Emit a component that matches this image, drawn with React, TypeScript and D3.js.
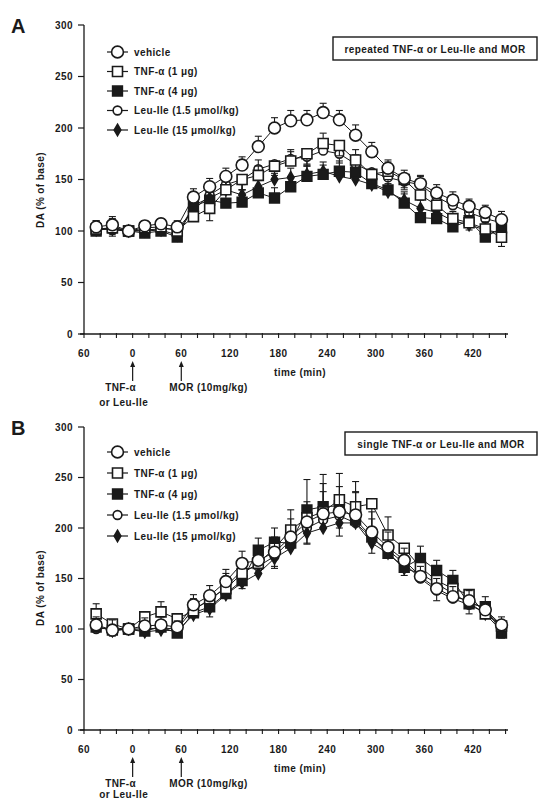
import React from 'react';
import * as d3 from 'd3';

// sampling times (min), one sample every 20 min
const times = [-45, -25, -5, 15, 35, 55, 75, 95, 115, 135, 155, 175, 195, 215, 235, 255, 275, 295, 315, 335, 355, 375, 395, 415, 435, 455];

const seriesNames = ['vehicle', 'TNF-α (1 μg)', 'TNF-α (4 μg)', 'Leu-Ile (1.5 μmol/kg)', 'Leu-Ile (15 μmol/kg)'];

// panel A: repeated pretreatment
const aVehicle = [104, 106, 100, 105, 107, 104, 133, 143, 153, 164, 182, 200, 207, 208, 215, 208, 193, 177, 161, 151, 146, 137, 130, 124, 118, 111];
const aTnf1 = [102, 103, 100, 103, 104, 100, 114, 122, 140, 150, 154, 163, 168, 175, 185, 183, 169, 155, 158, 150, 135, 125, 112, 108, 102, 94];
const aTnf4 = [100, 104, 100, 98, 100, 94, 124, 130, 127, 128, 137, 132, 143, 153, 155, 158, 157, 146, 140, 127, 113, 112, 104, 110, 94, 103];
const aLeu15 = [103, 101, 100, 101, 102, 102, 120, 135, 145, 150, 160, 165, 170, 172, 178, 175, 165, 157, 152, 148, 145, 133, 125, 118, 112, 108];
const aLeu150 = [101, 102, 100, 100, 101, 96, 125, 132, 140, 135, 143, 150, 152, 155, 158, 153, 150, 145, 138, 130, 122, 118, 110, 106, 101, 98];

const aVehicleErr = [6, 8, 0, 5, 5, 6, 8, 8, 8, 8, 10, 10, 10, 9, 9, 9, 10, 9, 8, 8, 8, 8, 8, 7, 7, 8];
const aTnf1Err = [8, 6, 0, 6, 6, 6, 10, 12, 10, 10, 9, 9, 9, 10, 10, 10, 10, 9, 9, 8, 8, 8, 7, 7, 7, 9];
const aTnf4Err = [8, 8, 0, 6, 8, 6, 9, 12, 14, 12, 12, 10, 10, 10, 9, 10, 10, 10, 10, 9, 8, 8, 8, 8, 8, 8];
const aLeu15Err = [6, 6, 0, 5, 6, 5, 8, 10, 10, 10, 9, 9, 9, 9, 9, 9, 9, 8, 8, 8, 8, 7, 7, 7, 6, 7];
const aLeu150Err = [6, 7, 0, 5, 6, 6, 9, 10, 10, 10, 10, 9, 9, 9, 9, 9, 9, 9, 8, 8, 8, 8, 7, 7, 7, 7];

// panel B: single pretreatment
const bVehicle = [104, 99, 100, 103, 104, 102, 124, 133, 147, 165, 168, 176, 191, 206, 214, 216, 213, 196, 181, 168, 152, 140, 132, 128, 119, 104];
const bTnf1 = [115, 105, 100, 112, 117, 110, 118, 130, 140, 155, 165, 180, 198, 210, 216, 228, 221, 224, 193, 180, 161, 148, 140, 134, 115, 103];
const bTnf4 = [102, 99, 100, 98, 102, 96, 116, 122, 135, 148, 178, 186, 185, 218, 221, 222, 208, 191, 175, 161, 170, 158, 148, 125, 122, 96];
const bLeu15 = [100, 101, 100, 100, 101, 100, 120, 128, 142, 158, 162, 172, 188, 200, 208, 212, 205, 190, 178, 165, 150, 138, 130, 124, 116, 104];
const bLeu150 = [103, 98, 100, 97, 99, 98, 114, 120, 134, 146, 155, 170, 180, 195, 200, 205, 205, 185, 175, 160, 155, 145, 135, 126, 115, 98];

const bVehicleErr = [8, 10, 0, 8, 8, 6, 10, 10, 12, 12, 12, 15, 18, 20, 22, 25, 22, 20, 15, 12, 10, 10, 10, 10, 8, 8];
const bTnf1Err = [10, 8, 0, 15, 10, 8, 12, 18, 15, 15, 15, 18, 20, 25, 28, 28, 25, 25, 18, 15, 12, 12, 10, 10, 10, 12];
const bTnf4Err = [6, 8, 0, 6, 6, 5, 10, 12, 10, 12, 12, 14, 15, 30, 32, 32, 28, 18, 14, 12, 12, 10, 10, 12, 10, 8];
const bLeu15Err = [6, 8, 0, 6, 6, 6, 8, 10, 10, 12, 10, 12, 14, 16, 18, 20, 18, 15, 14, 12, 10, 10, 10, 9, 8, 8];
const bLeu150Err = [6, 10, 0, 6, 6, 6, 8, 10, 10, 12, 12, 12, 14, 16, 18, 20, 18, 16, 14, 12, 12, 10, 10, 9, 8, 8];

const yTicks = [0, 50, 100, 150, 200, 250, 300];
const xLabels = [-60, 0, 60, 120, 180, 240, 300, 360, 420];
const xMinorTicks = d3.range(-60, 461, 20);

const FONT = '"Liberation Sans", Arial, sans-serif';
const INK = '#1a1a1a';
const FS = 10;
const LS = 0.4;

// marker style for each series: symbol type, size, filled
const markers = [
  { type: d3.symbolCircle, size: 110, fill: false },
  { type: d3.symbolSquare, size: 100, fill: false },
  { type: d3.symbolSquare, size: 95, fill: true },
  { type: d3.symbolCircle, size: 60, fill: false },
  { type: d3.symbolDiamond, size: 38, fill: true },
];

const Marker = ({ i, x, y }) => {
  const m = markers[i];
  const path = d3.symbol().type(m.type).size(m.size)();
  return (
    <path
      d={path}
      transform={`translate(${x},${y})`}
      fill={m.fill ? INK : '#fff'}
      stroke={INK}
      strokeWidth={1.6}
    />
  );
};

const Label = ({ children, ...rest }) => (
  <text fontFamily={FONT} fontSize={FS} fontWeight="bold" letterSpacing={LS} fill={INK} {...rest}>
    {children}
  </text>
);

const Panel = ({ letter, top, bottom, boxText, boxY, boxX, legendY, legendGap, series, errs, titleY, noteGap }) => {
  const x = d3.scaleLinear().domain([-60, 463]).range([84, 508]);
  const y = d3.scaleLinear().domain([0, 300]).range([bottom, top]);
  const line = d3.line().x((d) => x(d[0])).y((d) => y(d[1]));
  // draw in reverse so the vehicle stays on top
  const order = [3, 4, 2, 1, 0];

  return (
    <g>
      <text x={11} y={top + 8} fontFamily={FONT} fontSize={20} fontWeight="bold" fill={INK}>{letter}</text>

      {/* y axis */}
      <line x1={84} x2={84} y1={top} y2={bottom} stroke={INK} strokeWidth={1.3} />
      {yTicks.map((t) => (
        <g key={t}>
          <line x1={78} x2={84} y1={y(t)} y2={y(t)} stroke={INK} strokeWidth={1.2} />
          <Label x={73} y={y(t) + 3.5} textAnchor="end">{t}</Label>
        </g>
      ))}
      <Label transform={`translate(44,${titleY}) rotate(-90)`} textAnchor="middle">DA (% of base)</Label>

      {/* x axis */}
      <line x1={80} x2={508} y1={bottom} y2={bottom} stroke={INK} strokeWidth={1.3} />
      {xMinorTicks.map((t) => (
        <line key={t} x1={x(t)} x2={x(t)} y1={bottom - 1} y2={bottom + 4} stroke={INK} strokeWidth={1.1} />
      ))}
      {xLabels.map((t) => (
        <Label key={t} x={x(t)} y={bottom + 23} textAnchor="middle">
          {Math.abs(t)}
        </Label>
      ))}
      <Label x={300} y={bottom + 42} textAnchor="middle">time (min)</Label>

      {/* injection arrows */}
      {[0, 60].map((t) => (
        <g key={t}>
          <line x1={x(t)} x2={x(t)} y1={bottom + 30} y2={bottom + 47} stroke={INK} strokeWidth={1.2} />
          <path d={`M${x(t) - 2.5},${bottom + 33} L${x(t)},${bottom + 27} L${x(t) + 2.5},${bottom + 33} Z`} fill={INK} />
        </g>
      ))}
      <Label x={x(0) - 12} y={bottom + 57} textAnchor="middle">TNF-α</Label>
      <Label x={x(0) - 9} y={bottom + 57 + noteGap} textAnchor="middle">or Leu-Ile</Label>
      <Label x={x(60) - 12} y={bottom + 57}>MOR (10mg/kg)</Label>

      {/* condition box */}
      <rect x={boxX} y={boxY} width={537 - boxX} height={23} fill="#fff" stroke={INK} strokeWidth={1.4} />
      <Label x={(boxX + 537) / 2} y={boxY + 15.5} textAnchor="middle">{boxText}</Label>

      {/* legend */}
      {seriesNames.map((name, i) => {
        const ly = legendY + i * legendGap;
        return (
          <g key={name}>
            <line x1={107} x2={128} y1={ly} y2={ly} stroke={INK} strokeWidth={1.2} />
            <Marker i={i} x={117.5} y={ly} />
            <Label x={134} y={ly + 3.5}>{name}</Label>
          </g>
        );
      })}

      {/* series */}
      {order.map((si) => {
        const vals = series[si];
        const err = errs[si];
        const pts = times.map((t, k) => [t, vals[k]]);
        return (
          <g key={si}>
            <path d={line(pts)} fill="none" stroke={INK} strokeWidth={1} />
            {pts.map((p, k) => {
              const up = si % 2 === 0 || k % 2 === 0;
              const ye = up ? y(p[1] + err[k]) : y(p[1] - err[k]);
              if (err[k] === 0) return null;
              return (
                <g key={k}>
                  <line x1={x(p[0])} x2={x(p[0])} y1={y(p[1])} y2={ye} stroke={INK} strokeWidth={1.1} />
                  <line x1={x(p[0]) - 3.5} x2={x(p[0]) + 3.5} y1={ye} y2={ye} stroke={INK} strokeWidth={1.1} />
                </g>
              );
            })}
            {pts.map((p, k) => (
              <Marker key={k} i={si} x={x(p[0])} y={y(p[1])} />
            ))}
          </g>
        );
      })}
    </g>
  );
};

export default function App() {
  return (
    <svg width={540} height={800} style={{ position: 'absolute', left: 0, top: 0, background: '#fff' }}>
      <rect width={540} height={800} fill="#fff" />
      <Panel
        letter="A"
        top={25}
        bottom={334}
        boxText="repeated TNF-α or Leu-Ile and MOR"
        boxX={333}
        boxY={37}
        legendY={52}
        legendGap={19.5}
        titleY={190}
        noteGap={15}
        series={[aVehicle, aTnf1, aTnf4, aLeu15, aLeu150]}
        errs={[aVehicleErr, aTnf1Err, aTnf4Err, aLeu15Err, aLeu150Err]}
      />
      <Panel
        letter="B"
        top={427}
        bottom={730}
        boxText="single TNF-α or Leu-Ile and MOR"
        boxX={345}
        boxY={432}
        legendY={452}
        legendGap={21}
        titleY={588}
        noteGap={11}
        series={[bVehicle, bTnf1, bTnf4, bLeu15, bLeu150]}
        errs={[bVehicleErr, bTnf1Err, bTnf4Err, bLeu15Err, bLeu150Err]}
      />
    </svg>
  );
}
